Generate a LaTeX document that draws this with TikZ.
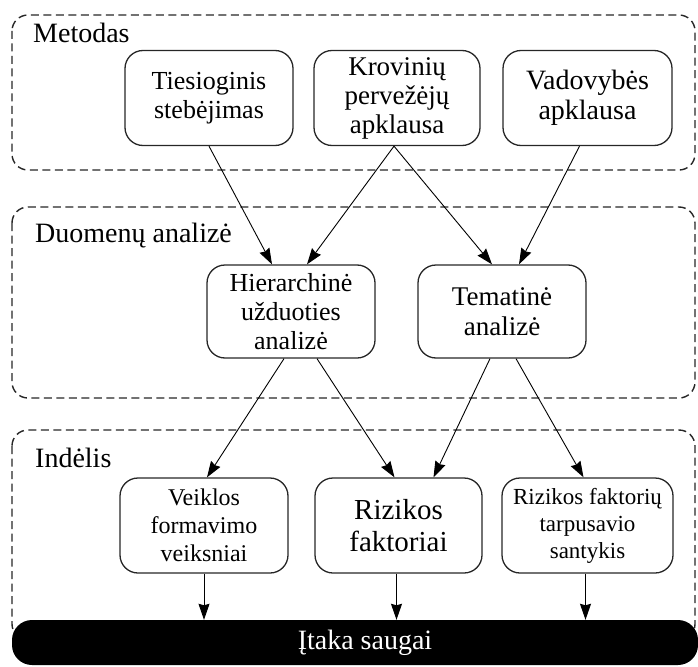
\documentclass[tikz,border=0pt]{standalone}
\usepackage{fontspec}
\setmainfont{Liberation Serif}
\usetikzlibrary{arrows.meta,positioning}

\begin{document}
\begin{tikzpicture}[
    x=1pt, y=-1pt,
    every text node part/.style={align=center},
    group/.style={draw=black!85, dash pattern=on 8pt off 4.5pt, line width=1.4pt, rounded corners=16pt},
    grouplabel/.style={anchor=west, inner sep=0pt, font=\fontsize{28}{30}\selectfont},
    box/.style={draw=black!85, line width=1.3pt, rounded corners=18pt, minimum width=168pt, minimum height=95pt, inner sep=2pt},
    arrow/.style={-{Stealth[length=16pt,width=11pt,inset=1.5pt]}, line width=0.9pt},
    impact/.style={fill=black, rounded corners=20pt, text=white, minimum width=686pt, minimum height=45pt, font=\fontsize{28}{30}\selectfont}
]
\useasboundingbox (0,0) rectangle (698,666);

% Groups
\draw [group] (12,15) rectangle (695,170);
\draw [group] (12,207) rectangle (695,398);
\draw [group] (12,430) rectangle (695,640);

\node (lmetodas) [grouplabel] at (33,33) {Metodas};
\node (lanalize) [grouplabel] at (35,236) {Duomenų analizė};
\node (lindelis) [grouplabel] at (35,458) {Indėlis};

% Nodes
\node (tiesiog) [box, font=\fontsize{26}{28.5}\selectfont] at (209,98) {Tiesioginis\\stebėjimas};
\node (krovin) [box, minimum width=166pt, font=\fontsize{27}{29}\selectfont] at (397,98) {Krovinių\\pervežėjų\\apklausa};
\node (vadov) [box, minimum width=169pt, font=\fontsize{28}{30}\selectfont] at (587.5,98) {Vadovybės\\apklausa};

\node (hierar) [box, minimum height=93pt, font=\fontsize{26}{29}\selectfont] at (291,311.5) {Hierarchinė\\užduoties\\analizė};
\node (temat) [box, minimum height=93pt, font=\fontsize{27}{30}\selectfont] at (502,311.5) {Tematinė\\analizė};

\node (veikl) [box, font=\fontsize{24}{28}\selectfont] at (204,525.5) {Veiklos\\formavimo\\veiksniai};
\node (rizik) [box, minimum width=167pt, font=\fontsize{29}{32}\selectfont] at (398.5,525.5) {Rizikos\\faktoriai};
\node (santyk) [box, minimum width=171pt, font=\fontsize{23}{27}\selectfont] at (587.5,525.5) {Rizikos faktorių\\tarpusavio\\santykis};

\node (itaka) [impact] at (355,642.5) {\hspace{20pt}Įtaka saugai};

% Connectors
\draw [arrow] (tiesiog.south) -- ([xshift=-19pt]hierar.north);
\draw [arrow] ([xshift=-3pt]krovin.south) -- ([xshift=16pt]hierar.north);
\draw [arrow] ([xshift=-3pt]krovin.south) -- ([xshift=-10pt]temat.north);
\draw [arrow] ([xshift=-8pt]vadov.south) -- ([xshift=17pt]temat.north);

\draw [arrow] ([xshift=-7pt]hierar.south) -- ([xshift=3pt]veikl.north);
\draw [arrow] ([xshift=26pt]hierar.south) -- ([xshift=-4pt]rizik.north);
\draw [arrow] ([xshift=-12pt]temat.south) -- ([xshift=35pt]rizik.north);
\draw [arrow] ([xshift=14pt]temat.south) -- ([xshift=-4pt]santyk.north);

\draw [arrow] (veikl.south) -- (veikl.south |- itaka.north);
\draw [arrow] ([xshift=-2pt]rizik.south) -- ([xshift=-2pt]rizik.south |- itaka.north);
\draw [arrow] ([xshift=-2pt]santyk.south) -- ([xshift=-2pt]santyk.south |- itaka.north);

\end{tikzpicture}
\end{document}
